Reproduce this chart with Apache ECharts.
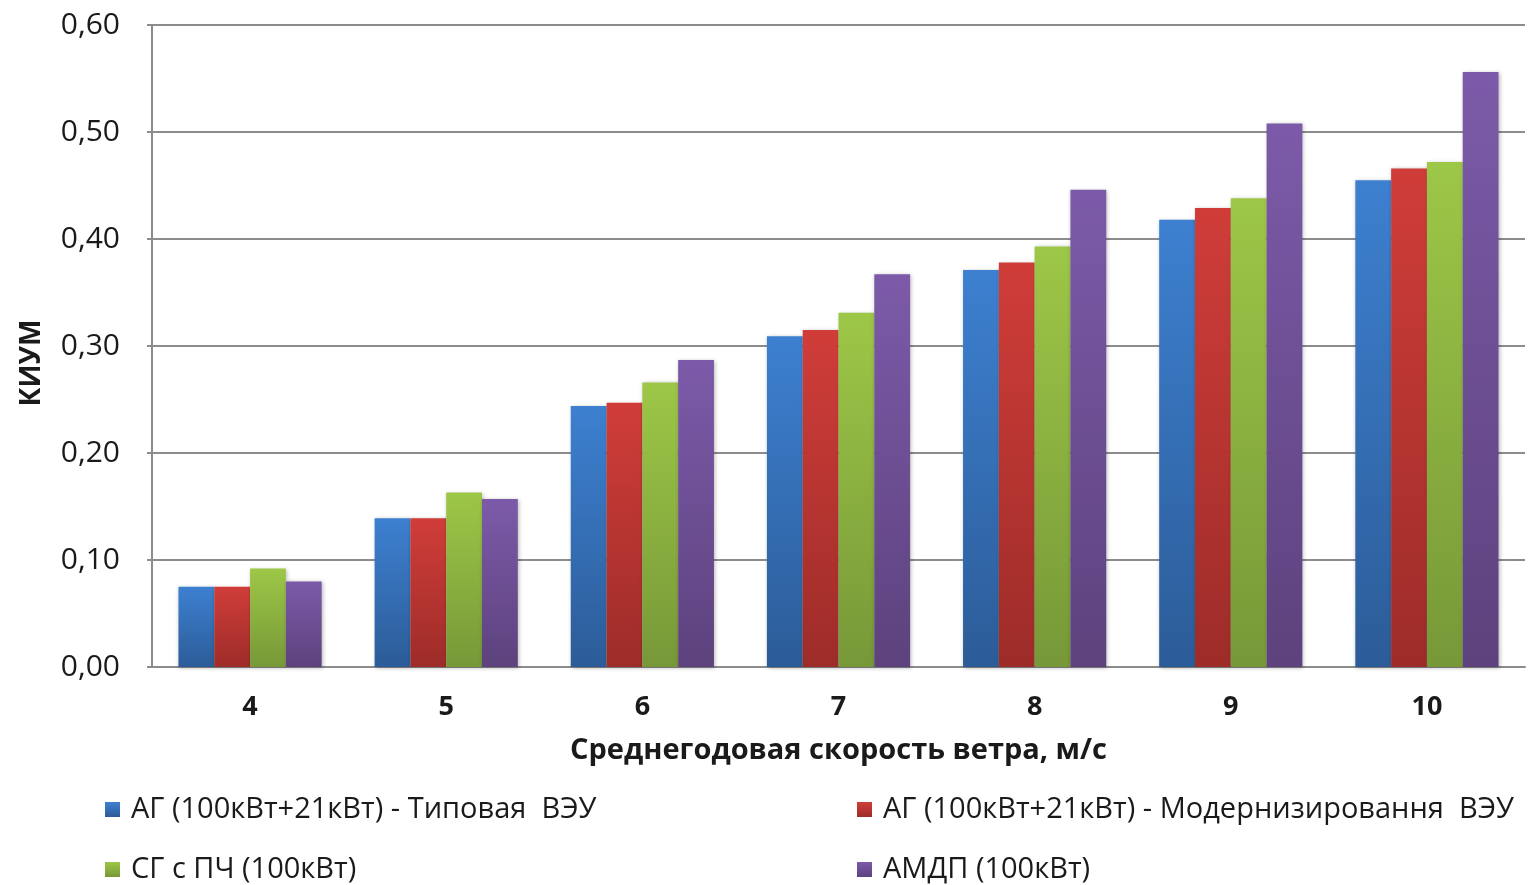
<!DOCTYPE html>
<html>
<head>
<meta charset="utf-8">
<title>КИУМ</title>
<script src="https://cdn.jsdelivr.net/npm/echarts@6/dist/echarts.min.js"></script>
<style>
  html, body { margin: 0; padding: 0; background: #ffffff; }
  #chart { width: 1536px; height: 885px; }
</style>
</head>
<body>
<div id="chart"></div>
<script>
// Wind speed categories, m/s
const speeds = ['4', '5', '6', '7', '8', '9', '10'];

// Capacity factor per generator configuration
const agTypical   = [0.075, 0.139, 0.244, 0.309, 0.371, 0.418, 0.455];
const agModern    = [0.075, 0.139, 0.247, 0.315, 0.378, 0.429, 0.466];
const sgConverter = [0.092, 0.163, 0.266, 0.331, 0.393, 0.438, 0.472];
const amdp        = [0.080, 0.157, 0.287, 0.367, 0.446, 0.508, 0.556];

const seriesNames = [
  'АГ (100кВт+21кВт) - Типовая  ВЭУ',
  'АГ (100кВт+21кВт) - Модернизировання  ВЭУ',
  'СГ с ПЧ (100кВт)',
  'АМДП (100кВт)'
];

const yTicks = { min: 0, max: 0.6, step: 0.1 };

const FONT = '"Open Sans", "Noto Sans", sans-serif';
const TEXT = '#1a1a1a';

function grad(top, bottom) {
  return new echarts.graphic.LinearGradient(0, 0, 0, 1, [
    { offset: 0, color: top },
    { offset: 1, color: bottom }
  ]);
}

const fills = [
  grad('#3d80d0', '#2c5c98'),
  grad('#d03d39', '#9d2c29'),
  grad('#9dc747', '#779838'),
  grad('#7c5aa9', '#5d427d')
];

const values = [agTypical, agModern, sgConverter, amdp];

const series = values.map((v, i) => ({
  name: seriesNames[i],
  type: 'bar',
  data: v,
  barGap: '0%',
  barCategoryGap: '27%',
  itemStyle: {
    color: fills[i],
    shadowBlur: 4,
    shadowColor: 'rgba(0,0,0,0.28)',
    shadowOffsetX: 1,
    shadowOffsetY: 1
  },
  emphasis: { disabled: true }
}));

// Two-column legend: one component per entry
const legendPos = [
  { left: 105, top: 795 },
  { left: 857, top: 795 },
  { left: 105, top: 855 },
  { left: 857, top: 855 }
];

const legends = seriesNames.map((n, i) => ({
  data: [n],
  left: legendPos[i].left,
  top: legendPos[i].top,
  padding: 0,
  orient: 'horizontal',
  itemWidth: 15,
  itemHeight: 15,
  icon: 'rect',
  selectedMode: false,
  textStyle: { fontFamily: FONT, fontSize: 29, color: TEXT, padding: [0, 0, 0, 6] }
}));

const chart = echarts.init(document.getElementById('chart'), null, { renderer: 'canvas' });

chart.setOption({
  animation: false,
  backgroundColor: '#ffffff',
  grid: { left: 152, right: 11, top: 25, bottom: 218, containLabel: false },
  legend: legends,
  xAxis: {
    type: 'category',
    data: speeds,
    name: 'Среднегодовая скорость ветра, м/с',
    nameLocation: 'middle',
    nameGap: 69,
    nameTextStyle: { fontFamily: FONT, fontSize: 29, fontWeight: 'bold', color: TEXT },
    axisLine: { show: true, lineStyle: { color: '#8c8c8c', width: 2 } },
    axisTick: { show: false },
    axisLabel: { fontFamily: FONT, fontSize: 27, fontWeight: 'bold', color: TEXT, margin: 27 }
  },
  yAxis: {
    type: 'value',
    min: yTicks.min,
    max: yTicks.max,
    interval: yTicks.step,
    name: 'КИУМ',
    nameLocation: 'middle',
    nameGap: 106,
    nameRotate: 90,
    nameTextStyle: { fontFamily: FONT, fontSize: 28, fontWeight: 'bold', color: TEXT, padding: [0, 34, 0, 0] },
    axisLine: { show: true, lineStyle: { color: '#8c8c8c', width: 2 } },
    axisTick: { show: true, length: 5, lineStyle: { color: '#8c8c8c', width: 2 } },
    axisLabel: {
      fontFamily: FONT, fontSize: 30, color: TEXT, margin: 32,
      formatter: v => v.toFixed(2).replace('.', ',')
    },
    splitLine: { show: true, lineStyle: { color: '#8c8c8c', width: 2 } }
  },
  series: series
});
</script>
</body>
</html>
